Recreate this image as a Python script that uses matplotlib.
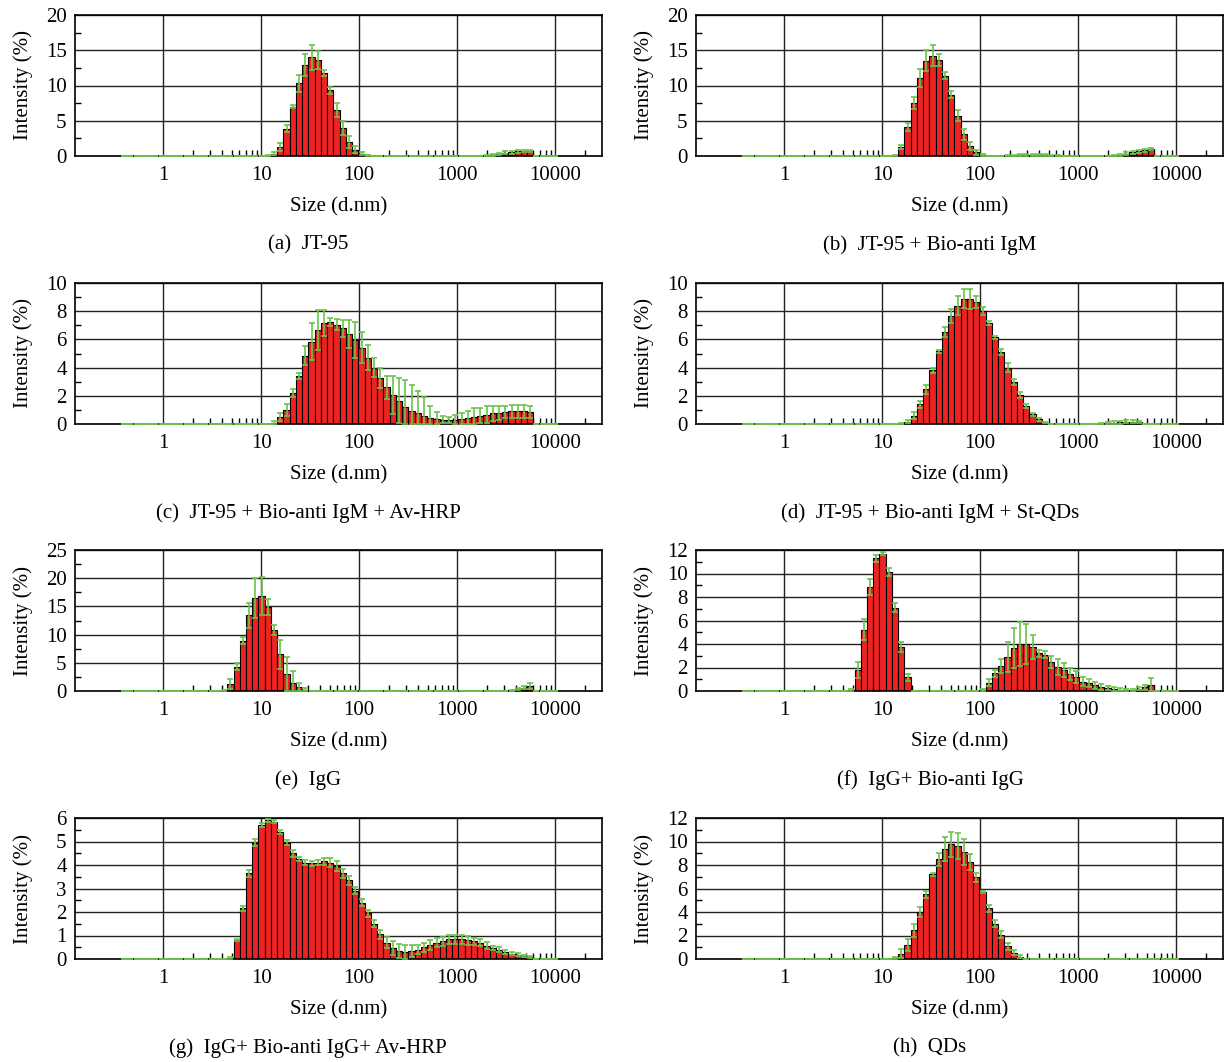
import numpy as np
import matplotlib
matplotlib.use('Agg')
import matplotlib.pyplot as plt
from matplotlib.ticker import FixedLocator, NullFormatter

# Zetasizer size classes (d.nm)
sizes = [0.4, 0.4632, 0.5365, 0.6213, 0.7195, 0.8332, 0.9649, 1.117, 1.294, 1.499,
         1.736, 2.010, 2.328, 2.696, 3.122, 3.615, 4.187, 4.849, 5.615, 6.503,
         7.531, 8.721, 10.10, 11.70, 13.54, 15.69, 18.17, 21.04, 24.36, 28.21,
         32.67, 37.84, 43.82, 50.75, 58.77, 68.06, 78.82, 91.28, 105.7, 122.4,
         141.8, 164.2, 190.1, 220.2, 255.0, 295.3, 342.0, 396.1, 458.7, 531.2,
         615.1, 712.4, 825.0, 955.4, 1106, 1281, 1484, 1718, 1990, 2305,
         2669, 3091, 3580, 4145, 4801, 5560, 6439, 7456, 8635, 10000]

# (a) JT-95
a_mean = [0, 0, 0, 0, 0, 0, 0, 0, 0, 0,
          0, 0, 0, 0, 0, 0, 0, 0, 0, 0,
          0, 0, 0, 0.05, 0.3, 1.3, 3.9, 7.0, 10.3, 12.9,
          14.0, 13.6, 11.8, 9.3, 6.5, 4.0, 2.0, 0.9, 0.3, 0.05,
          0, 0, 0, 0, 0, 0, 0, 0, 0, 0,
          0, 0, 0, 0, 0, 0, 0, 0, 0.05, 0.15,
          0.3, 0.45, 0.55, 0.65, 0.7, 0.7, 0, 0, 0, 0]
a_sd = [0, 0, 0, 0, 0, 0, 0, 0, 0, 0,
        0, 0, 0, 0, 0, 0, 0, 0, 0, 0,
        0, 0, 0, 0.05, 0.2, 0.6, 0.5, 0.25, 1.2, 1.5,
        1.8, 1.3, 0.4, 0.5, 1.0, 1.0, 0.8, 0.5, 0.2, 0.05,
        0, 0, 0, 0, 0, 0, 0, 0, 0, 0,
        0, 0, 0, 0, 0, 0, 0, 0, 0.05, 0.1,
        0.15, 0.2, 0.2, 0.2, 0.15, 0.15, 0, 0, 0, 0]

# (b) JT-95 + Bio-anti IgM
b_mean = [0, 0, 0, 0, 0, 0, 0, 0, 0, 0,
          0, 0, 0, 0, 0, 0, 0, 0, 0, 0,
          0, 0, 0, 0, 0.05, 1.3, 4.1, 7.5, 11.1, 13.5,
          14.2, 13.6, 11.4, 8.7, 5.7, 3.1, 1.4, 0.5, 0.1, 0,
          0, 0, 0.05, 0.1, 0.15, 0.2, 0.2, 0.2, 0.15, 0.1,
          0.05, 0, 0, 0, 0, 0, 0, 0, 0, 0.1,
          0.2, 0.35, 0.5, 0.65, 0.8, 0.95, 0, 0, 0, 0]
b_sd = [0, 0, 0, 0, 0, 0, 0, 0, 0, 0,
        0, 0, 0, 0, 0, 0, 0, 0, 0, 0,
        0, 0, 0, 0, 0.05, 0.3, 0.6, 0.9, 1.3, 1.5,
        1.5, 0.8, 0.5, 0.5, 0.8, 0.8, 0.6, 0.4, 0.2, 0,
        0, 0, 0.1, 0.1, 0.1, 0.15, 0.15, 0.15, 0.1, 0.1,
        0.05, 0, 0, 0, 0, 0, 0, 0, 0, 0.1,
        0.15, 0.2, 0.2, 0.2, 0.2, 0.15, 0, 0, 0, 0]

# (c) JT-95 + Bio-anti IgM + Av-HRP
c_mean = [0, 0, 0, 0, 0, 0, 0, 0, 0, 0,
          0, 0, 0, 0, 0, 0, 0, 0, 0, 0,
          0, 0, 0, 0, 0.1, 0.5, 1.0, 2.2, 3.4, 4.85,
          5.85, 6.65, 7.15, 7.25, 7.05, 6.8, 6.4, 5.95, 5.4, 4.7,
          4.0, 3.25, 2.6, 2.05, 1.65, 1.2, 0.9, 0.75, 0.55, 0.45,
          0.35, 0.3, 0.3, 0.28, 0.33, 0.4, 0.5, 0.6, 0.65, 0.75,
          0.8, 0.85, 0.9, 0.9, 0.9, 0.85, 0, 0, 0, 0]
c_sd = [0, 0, 0, 0, 0, 0, 0, 0, 0, 0,
        0, 0, 0, 0, 0, 0, 0, 0, 0, 0,
        0, 0, 0, 0, 0.1, 0.3, 0.4, 0.3, 0.2, 0.7,
        1.3, 1.4, 0.9, 0.3, 0.4, 0.6, 1.0, 1.3, 1.1, 0.9,
        0.7, 0.7, 0.8, 1.35, 1.6, 1.9, 1.85, 1.6, 1.35, 0.8,
        0.5, 0.25, 0.2, 0.35, 0.45, 0.55, 0.6, 0.55, 0.6, 0.55,
        0.5, 0.45, 0.45, 0.45, 0.45, 0.45, 0, 0, 0, 0]

# (d) JT-95 + Bio-anti IgM + St-QDs
d_mean = [0, 0, 0, 0, 0, 0, 0, 0, 0, 0,
          0, 0, 0, 0, 0, 0, 0, 0, 0, 0,
          0, 0, 0, 0, 0, 0.05, 0.15, 0.6, 1.4, 2.45,
          3.8, 5.15, 6.5, 7.65, 8.4, 8.9, 8.85, 8.65, 8.0, 7.15,
          6.15, 5.1, 4.0, 3.0, 2.05, 1.25, 0.7, 0.33, 0.1, 0,
          0, 0, 0, 0, 0, 0, 0, 0.03, 0.06, 0.1,
          0.12, 0.15, 0.15, 0.12, 0, 0, 0, 0, 0, 0]
d_sd = [0, 0, 0, 0, 0, 0, 0, 0, 0, 0,
        0, 0, 0, 0, 0, 0, 0, 0, 0, 0,
        0, 0, 0, 0, 0, 0.05, 0.1, 0.25, 0.25, 0.35,
        0.2, 0.1, 0.35, 0.5, 0.7, 0.7, 0.7, 0.4, 0.3, 0.15,
        0.1, 0.2, 0.3, 0.2, 0.2, 0.15, 0.1, 0.1, 0.05, 0,
        0, 0, 0, 0, 0, 0, 0, 0.05, 0.05, 0.08,
        0.1, 0.1, 0.1, 0.08, 0, 0, 0, 0, 0, 0]

# (e) IgG
e_mean = [0, 0, 0, 0, 0, 0, 0, 0, 0, 0,
          0, 0, 0, 0, 0, 0, 0.1, 1.2, 4.3, 8.9,
          13.4, 16.5, 16.9, 14.9, 10.8, 6.5, 3.0, 1.4, 0.65, 0.2,
          0, 0, 0, 0, 0, 0, 0, 0, 0, 0,
          0, 0, 0, 0, 0, 0, 0, 0, 0, 0,
          0, 0, 0, 0, 0, 0, 0, 0, 0, 0,
          0, 0, 0.1, 0.3, 0.6, 0.9, 0, 0, 0, 0]
e_sd = [0, 0, 0, 0, 0, 0, 0, 0, 0, 0,
        0, 0, 0, 0, 0, 0, 0.1, 0.9, 0.6, 0.6,
        2.2, 3.6, 3.4, 1.5, 0.9, 2.6, 3.1, 2.1, 0.8, 0.3,
        0, 0, 0, 0, 0, 0, 0, 0, 0, 0,
        0, 0, 0, 0, 0, 0, 0, 0, 0, 0,
        0, 0, 0, 0, 0, 0, 0, 0, 0, 0,
        0, 0, 0.1, 0.2, 0.3, 0.6, 0, 0, 0, 0]

# (f) IgG+ Bio-anti IgG
f_mean = [0, 0, 0, 0, 0, 0, 0, 0, 0, 0,
          0, 0, 0, 0, 0, 0, 0, 0.1, 1.8, 5.2,
          8.85, 11.3, 11.7, 10.1, 7.1, 3.75, 1.15, 0, 0, 0,
          0, 0, 0, 0, 0, 0, 0, 0, 0.1, 0.7,
          1.5, 2.15, 2.9, 3.65, 4.0, 4.0, 3.75, 3.2, 3.1, 2.5,
          2.05, 1.8, 1.45, 1.2, 0.8, 0.65, 0.5, 0.35, 0.25, 0.15,
          0.1, 0.1, 0.1, 0.2, 0.3, 0.5, 0, 0, 0, 0]
f_sd = [0, 0, 0, 0, 0, 0, 0, 0, 0, 0,
        0, 0, 0, 0, 0, 0, 0, 0.1, 0.7, 0.9,
        0.7, 0.3, 0.15, 0.35, 0.4, 0.4, 0.3, 0, 0, 0,
        0, 0, 0, 0, 0, 0, 0, 0, 0.1, 0.3,
        0.3, 0.6, 1.3, 1.7, 1.9, 1.7, 1.0, 0.3, 0.3, 0.5,
        0.7, 0.6, 0.5, 0.5, 0.4, 0.35, 0.3, 0.25, 0.2, 0.15,
        0.15, 0.1, 0.1, 0.15, 0.2, 0.6, 0, 0, 0, 0]

# (g) IgG+ Bio-anti IgG+ Av-HRP
g_mean = [0, 0, 0, 0, 0, 0, 0, 0, 0, 0,
          0, 0, 0, 0, 0, 0, 0, 0.05, 0.8, 2.15,
          3.65, 4.95, 5.7, 5.9, 5.85, 5.4, 4.95, 4.5, 4.25, 4.1,
          4.07, 4.1, 4.15, 4.1, 3.95, 3.65, 3.35, 2.9, 2.4, 1.95,
          1.5, 1.05, 0.7, 0.45, 0.35, 0.3, 0.33, 0.4, 0.5, 0.6,
          0.7, 0.75, 0.83, 0.83, 0.83, 0.8, 0.75, 0.7, 0.57, 0.47,
          0.4, 0.3, 0.23, 0.18, 0.12, 0.07, 0, 0, 0, 0]
g_sd = [0, 0, 0, 0, 0, 0, 0, 0, 0, 0,
        0, 0, 0, 0, 0, 0, 0, 0.03, 0.05, 0.1,
        0.15, 0.15, 0.1, 0.05, 0.05, 0.1, 0.1, 0.15, 0.1, 0.1,
        0.1, 0.1, 0.15, 0.2, 0.2, 0.2, 0.2, 0.15, 0.15, 0.15,
        0.15, 0.2, 0.25, 0.3, 0.3, 0.3, 0.25, 0.2, 0.2, 0.2,
        0.2, 0.2, 0.2, 0.2, 0.2, 0.2, 0.15, 0.15, 0.15, 0.1,
        0.1, 0.1, 0.08, 0.06, 0.05, 0.04, 0, 0, 0, 0]

# (h) QDs
h_mean = [0, 0, 0, 0, 0, 0, 0, 0, 0, 0,
          0, 0, 0, 0, 0, 0, 0, 0, 0, 0,
          0, 0, 0, 0, 0.1, 0.45, 1.2, 2.45, 4.0, 5.5,
          7.2, 8.5, 9.35, 9.75, 9.65, 9.1, 8.25, 6.95, 5.7, 4.3,
          3.0, 2.05, 1.1, 0.55, 0.2, 0, 0, 0, 0, 0,
          0, 0, 0, 0, 0, 0, 0, 0, 0, 0,
          0, 0, 0, 0, 0, 0, 0, 0, 0, 0]
h_sd = [0, 0, 0, 0, 0, 0, 0, 0, 0, 0,
        0, 0, 0, 0, 0, 0, 0, 0, 0, 0,
        0, 0, 0, 0, 0.1, 0.4, 0.5, 0.55, 0.4, 0.3,
        0.1, 0.55, 1.0, 1.1, 1.1, 1.1, 0.7, 0.4, 0.1, 0.3,
        0.3, 0.3, 0.3, 0.2, 0.15, 0, 0, 0, 0, 0,
        0, 0, 0, 0, 0, 0, 0, 0, 0, 0,
        0, 0, 0, 0, 0, 0, 0, 0, 0, 0]

captions = ['(a)  JT-95', '(b)  JT-95 + Bio-anti IgM',
            '(c)  JT-95 + Bio-anti IgM + Av-HRP', '(d)  JT-95 + Bio-anti IgM + St-QDs',
            '(e)  IgG', '(f)  IgG+ Bio-anti IgG',
            '(g)  IgG+ Bio-anti IgG+ Av-HRP', '(h)  QDs']
means = [a_mean, b_mean, c_mean, d_mean, e_mean, f_mean, g_mean, h_mean]
sds = [a_sd, b_sd, c_sd, d_sd, e_sd, f_sd, g_sd, h_sd]
ymax = [20, 20, 10, 10, 25, 12, 6, 12]
ystep = [5, 5, 2, 2, 5, 2, 1, 2]

x_major = [1, 10, 100, 1000, 10000]
x_minor = [m * 10 ** k for k in range(0, 4) for m in range(2, 10)] + [20000]

RED = '#ee2222'
GREEN = '#6cc24a'

plt.rcParams['font.family'] = ['Liberation Serif', 'DejaVu Serif']
plt.rcParams['font.size'] = 15

W, H = 1226, 1062
fig = plt.figure(figsize=(W / 100, H / 100), dpi=100)

tops = [15, 283, 550, 818]
ax_h = 141
ax_w = 527
col_x = [75, 696]
cap_x = [308, 930]
xlim = (0.126, 30000)

sz = np.array(sizes)
ratio = np.sqrt(sz[1] / sz[0])
lefts = sz / ratio
widths = sz * ratio - sz / ratio

for n in range(8):
    row, col = divmod(n, 2)
    top = tops[row]
    ax = fig.add_axes([col_x[col] / W, 1 - (top + ax_h) / H, ax_w / W, ax_h / H])
    m = np.array(means[n])
    s = np.array(sds[n])

    ax.set_xscale('log')
    ax.set_xlim(*xlim)
    ax.set_ylim(0, ymax[n])
    ax.set_axisbelow(True)

    nz = m > 0
    ax.bar(lefts[nz], m[nz], width=widths[nz], align='edge', color=RED,
           edgecolor='black', linewidth=0.8, zorder=2)
    lo = np.minimum(s, m)
    eb = ax.errorbar(sz, m, yerr=[lo, s], fmt='none', ecolor=GREEN,
                     elinewidth=1.2, capsize=2.3, capthick=1.2, zorder=4)
    for art in eb.lines[1] + eb.lines[2]:
        art.set_clip_on(False)

    ax.xaxis.set_major_locator(FixedLocator(x_major))
    ax.set_xticklabels([str(v) for v in x_major])
    ax.xaxis.set_minor_locator(FixedLocator(x_minor))
    ax.xaxis.set_minor_formatter(NullFormatter())
    yt = np.arange(0, ymax[n] + ystep[n] / 2, ystep[n])
    ax.set_yticks(yt)
    ax.set_yticklabels([('%g' % v) for v in yt])
    ax.yaxis.set_minor_locator(FixedLocator(yt[:-1] + ystep[n] / 2))

    ax.tick_params(which='major', length=0, pad=6)
    ax.tick_params(axis='x', which='major', pad=7)
    ax.tick_params(which='minor', direction='in', length=4, width=1,
                   color='black', top=False, right=False)
    ax.grid(True, which='major', color='#222222', linewidth=1.0, zorder=0)
    for sp in ax.spines.values():
        sp.set_linewidth(1.2)

    ax.set_xlabel('Size (d.nm)')
    ax.xaxis.set_label_coords(0.5, -0.29)
    ax.set_ylabel('Intensity (%)')
    ax.yaxis.set_label_coords(-0.08, 0.5)

    fig.text(cap_x[col] / W, 1 - (top + ax_h + 89) / H, captions[n],
             ha='center', va='center')

fig.savefig('out.png', dpi=100)
